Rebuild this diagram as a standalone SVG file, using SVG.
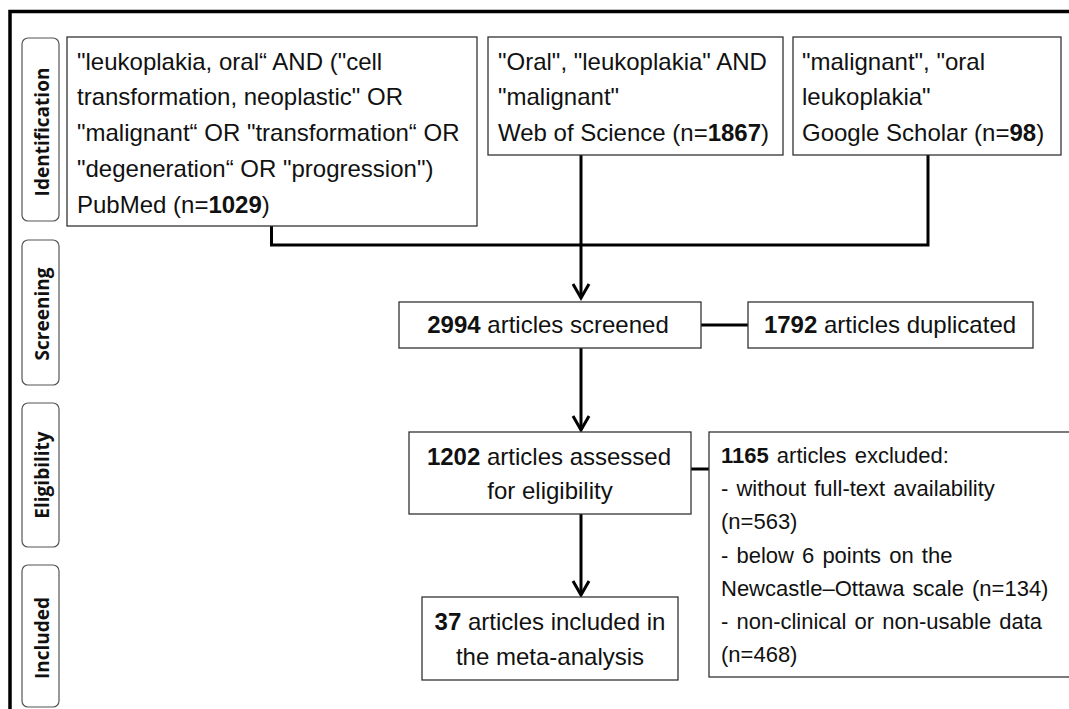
<svg xmlns="http://www.w3.org/2000/svg" width="1069" height="709" viewBox="0 0 1069 709">
<style>
.box{fill:#fff;stroke:#333;stroke-width:1.3}
.lab{fill:#fff;stroke:#555;stroke-width:1.2}
.t{font-family:"Liberation Sans",Arial,sans-serif;font-size:24px;fill:#111}
.s{font-family:"Liberation Sans",Arial,sans-serif;font-size:22px;fill:#111;word-spacing:2px}
.lt{font-family:"Open Sans","DejaVu Sans",sans-serif;font-size:19px;font-weight:700;fill:#111}
.b{font-weight:700}
.c{fill:none;stroke:#000;stroke-width:3}
</style>
<defs>
<marker id="arr" markerUnits="userSpaceOnUse" viewBox="-16 -10 20 20" refX="0" refY="0" markerWidth="20" markerHeight="20" orient="auto">
<path d="M-14,-8 L0,0 L-14,8" fill="none" stroke="#000" stroke-width="3"/>
</marker>
</defs>
<rect width="1069" height="709" fill="#fff"/>
<path d="M10,709 V11.5 H1069" fill="none" stroke="#000" stroke-width="3.5"/>

<g id="label-identification">
<rect class="lab" x="22" y="38" width="37" height="183" rx="6"/>
<text class="lt" transform="translate(49,132) rotate(-90)" text-anchor="middle">Identification</text>
</g>
<g id="label-screening">
<rect class="lab" x="22" y="240" width="37" height="145" rx="6"/>
<text class="lt" transform="translate(49,314) rotate(-90)" text-anchor="middle">Screening</text>
</g>
<g id="label-eligibility">
<rect class="lab" x="22" y="403" width="37" height="144" rx="6"/>
<text class="lt" transform="translate(49,475) rotate(-90)" text-anchor="middle">Eligibility</text>
</g>
<g id="label-included">
<rect class="lab" x="22" y="565" width="37" height="142" rx="6"/>
<text class="lt" transform="translate(49,638) rotate(-90)" text-anchor="middle">Included</text>
</g>

<g id="connectors">
<path class="c" d="M271.5,226 V245 H928 V155"/>
<path class="c" d="M581,155 V298" marker-end="url(#arr)"/>
<path class="c" d="M701,325 H748"/>
<path class="c" d="M581,348 V430" marker-end="url(#arr)"/>
<path class="c" d="M691,469 H709"/>
<path class="c" d="M581,514 V595" marker-end="url(#arr)"/>
</g>

<g id="node-pubmed">
<rect class="box" x="67" y="37" width="410" height="189"/>
<text class="t" x="77" y="70">"leukoplakia, oral“ AND ("cell</text>
<text class="t" x="77" y="105">transformation, neoplastic" OR</text>
<text class="t" x="77" y="141">"malignant“ OR "transformation“ OR</text>
<text class="t" x="77" y="177">"degeneration“ OR "progression")</text>
<text class="t" x="77" y="213">PubMed (n=<tspan class="b">1029</tspan>)</text>
</g>
<g id="node-wos">
<rect class="box" x="488" y="37" width="295" height="118"/>
<text class="t" x="498" y="70">"Oral", "leukoplakia" AND</text>
<text class="t" x="498" y="105">"malignant"</text>
<text class="t" x="498" y="141">Web of Science (n=<tspan class="b">1867</tspan>)</text>
</g>
<g id="node-google">
<rect class="box" x="793" y="37" width="268" height="118"/>
<text class="t" x="802" y="70">"malignant", "oral</text>
<text class="t" x="802" y="105">leukoplakia"</text>
<text class="t" x="802" y="141">Google Scholar (n=<tspan class="b">98</tspan>)</text>
</g>
<g id="node-screened">
<rect class="box" x="399" y="302" width="302" height="46"/>
<text class="t" x="548" y="333" text-anchor="middle"><tspan class="b">2994</tspan> articles screened</text>
</g>
<g id="node-duplicated">
<rect class="box" x="748" y="302" width="285" height="46"/>
<text class="t" x="890" y="333" text-anchor="middle"><tspan class="b">1792</tspan> articles duplicated</text>
</g>
<g id="node-assessed">
<rect class="box" x="409" y="432" width="282" height="82"/>
<text class="t" x="549" y="465" text-anchor="middle"><tspan class="b">1202</tspan> articles assessed</text>
<text class="t" x="550" y="499" text-anchor="middle">for eligibility</text>
</g>
<g id="node-excluded">
<rect class="box" x="709" y="432" width="380" height="245"/>
<text class="s" x="721" y="463"><tspan class="b">1165</tspan> articles excluded:</text>
<text class="s" x="721" y="496">- without full-text availability</text>
<text class="s" x="721" y="529">(n=563)</text>
<text class="s" x="721" y="563">- below 6 points on the</text>
<text class="s" x="721" y="596">Newcastle–Ottawa scale (n=134)</text>
<text class="s" x="721" y="629">- non-clinical or non-usable data</text>
<text class="s" x="721" y="662">(n=468)</text>
</g>
<g id="node-included">
<rect class="box" x="422" y="597" width="256" height="83"/>
<text class="t" x="550" y="630" text-anchor="middle"><tspan class="b">37</tspan> articles included in</text>
<text class="t" x="550" y="665" text-anchor="middle">the meta-analysis</text>
</g>
</svg>
